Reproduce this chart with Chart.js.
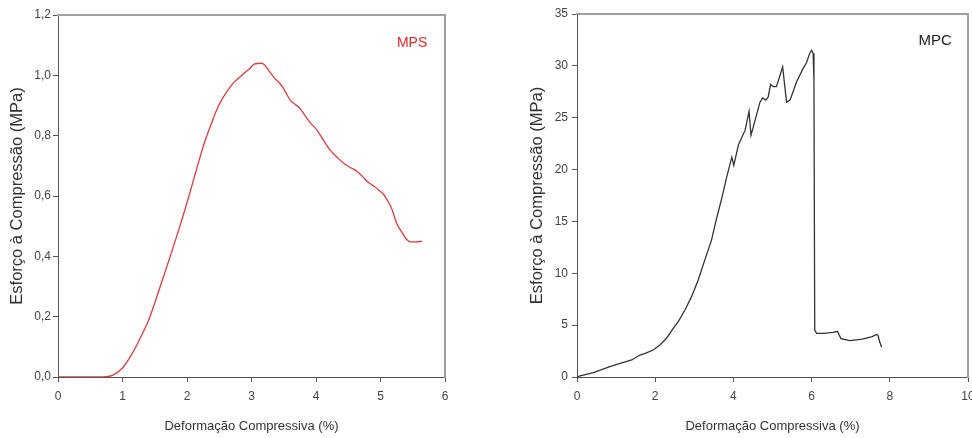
<!DOCTYPE html>
<html>
<head>
<meta charset="utf-8">
<script src="https://cdn.jsdelivr.net/npm/chart.js@4/dist/chart.umd.min.js"></script>
<style>
  html, body { margin: 0; padding: 0; background: #fff; width: 972px; height: 438px; overflow: hidden; }
  canvas { position: absolute; top: 0; }
  #mps { left: 0; }
  #mpc { left: 500px; }
</style>
</head>
<body>
<canvas id="mps" width="460" height="438"></canvas>
<canvas id="mpc" width="490" height="438"></canvas>
<script>
// Stress-strain curve, MPS specimen (strain %, stress MPa)
const mpsStrain = [0, 0.3, 0.6, 0.7, 0.85, 1.0, 1.1, 1.2, 1.3, 1.4, 1.5, 1.6, 1.74, 1.89, 2.03, 2.15, 2.26, 2.36, 2.48, 2.6, 2.72, 2.85, 2.97, 3.05, 3.15, 3.2, 3.28, 3.36, 3.44, 3.5, 3.6, 3.67, 3.75, 3.82, 3.91, 4.01, 4.1, 4.22, 4.32, 4.42, 4.52, 4.63, 4.72, 4.8, 4.9, 4.97, 5.05, 5.1, 5.17, 5.25, 5.33, 5.41, 5.47, 5.55, 5.64];
const mpsStress = [0, 0, 0, 0, 0.006, 0.03, 0.06, 0.097, 0.14, 0.186, 0.245, 0.31, 0.4, 0.5, 0.6, 0.69, 0.77, 0.83, 0.895, 0.94, 0.975, 1.0, 1.022, 1.038, 1.04, 1.035, 1.012, 0.99, 0.973, 0.955, 0.918, 0.905, 0.891, 0.87, 0.843, 0.82, 0.79, 0.752, 0.73, 0.71, 0.696, 0.683, 0.665, 0.647, 0.632, 0.62, 0.605, 0.588, 0.56, 0.51, 0.48, 0.455, 0.448, 0.448, 0.45];

// Stress-strain curve, MPC specimen (strain %, stress MPa)
const mpcStrain = [0, 0.08, 0.42, 0.84, 1.1, 1.4, 1.61, 1.74, 1.95, 2.12, 2.29, 2.46, 2.59, 2.76, 2.93, 3.1, 3.27, 3.44, 3.57, 3.7, 3.83, 3.96, 4.01, 4.13, 4.3, 4.4, 4.45, 4.6, 4.68, 4.75, 4.83, 4.89, 4.95, 5.02, 5.1, 5.26, 5.3, 5.36, 5.45, 5.62, 5.79, 5.87, 5.95, 6.0, 6.04, 6.06, 6.08, 6.13, 6.3, 6.55, 6.66, 6.7, 6.75, 6.98, 7.3, 7.55, 7.66, 7.7, 7.74, 7.79];
const mpcStress = [0, 0.1, 0.42, 1.0, 1.32, 1.64, 2.12, 2.28, 2.6, 3.09, 3.73, 4.69, 5.34, 6.46, 7.75, 9.36, 11.29, 13.2, 15.3, 17.2, 19.3, 21.2, 20.4, 22.4, 23.8, 25.6, 23.3, 25.4, 26.5, 26.9, 26.7, 27.0, 28.2, 28.0, 28.0, 29.9, 28.5, 26.5, 26.7, 28.5, 29.8, 30.3, 31.2, 31.5, 31.2, 28.6, 4.5, 4.2, 4.2, 4.3, 4.4, 4.1, 3.7, 3.5, 3.65, 3.9, 4.1, 4.0, 3.4, 2.9];

// Axis ranges and tick steps
const mpsXTicks = { min: 0, max: 6, step: 1 };
const mpsYTicks = { min: 0, max: 1.2, step: 0.2 };
const mpcXTicks = { min: 0, max: 10, step: 2 };
const mpcYTicks = { min: 0, max: 35, step: 5 };

const xTitle = 'Deformação Compressiva (%)';
const yTitle = 'Esforço à Compressão (MPa)';

const FONT = '"Liberation Sans", Arial, Helvetica, sans-serif';

// Draws the specimen tag inside the plotting area, anchored to data coordinates
const specimenTag = {
  id: 'specimenTag',
  afterDraw(chart, args, opts) {
    const { ctx, scales } = chart;
    ctx.save();
    ctx.font = opts.font;
    ctx.fillStyle = opts.color;
    ctx.textAlign = 'center';
    ctx.textBaseline = 'middle';
    ctx.fillText(opts.text, scales.x.getPixelForValue(opts.x), scales.y.getPixelForValue(opts.y));
    ctx.restore();
  }
};

function makeConfig(xs, ys, color, xr, yr, fmt, geom, tag, smooth) {
  const frame = { color: '#a0a0a0', width: 2 };
  return {
    type: 'line',
    data: {
      datasets: [{
        data: xs.map((x, i) => ({ x: x, y: ys[i] })),
        borderColor: color,
        borderWidth: 1.3,
        pointRadius: 0,
        fill: false,
        tension: smooth ? 0.35 : 0,
        cubicInterpolationMode: smooth ? 'monotone' : 'default'
      }]
    },
    options: {
      responsive: false,
      animation: false,
      devicePixelRatio: 1,
      layout: { padding: { left: 0, top: geom.top, right: geom.right, bottom: 0 } },
      plugins: { legend: { display: false }, tooltip: { enabled: false }, specimenTag: tag },
      scales: {
        x: {
          type: 'linear', position: 'bottom', min: xr.min, max: xr.max,
          ticks: { stepSize: xr.step, color: '#444', font: { family: FONT, size: 12 }, padding: 7, maxRotation: 0 },
          grid: { display: true, drawOnChartArea: false, drawTicks: true, tickLength: 5, color: '#555' },
          border: { color: '#555', width: 1 },
          title: { display: true, text: xTitle, color: '#333', font: { family: FONT, size: 13 }, padding: { top: 0, bottom: 4 } },
          afterFit(s) { s.height = geom.xh; }
        },
        y: {
          type: 'linear', position: 'left', min: yr.min, max: yr.max,
          ticks: { stepSize: yr.step, color: '#444', font: { family: FONT, size: 12 }, padding: geom.ypad, callback: fmt },
          grid: { display: true, drawOnChartArea: false, drawTicks: true, tickLength: 5, color: '#555' },
          border: { color: '#555', width: 1 },
          title: { display: true, text: yTitle, color: '#333', font: { family: FONT, size: 16.5 }, padding: { top: geom.ytp, bottom: 0 } },
          afterFit(s) { s.width = geom.yw; }
        },
        xTop: {
          type: 'linear', position: 'top', min: 0, max: 1,
          ticks: { display: false }, grid: { display: false }, border: frame,
          afterFit(s) { s.height = 0; }
        },
        yRight: {
          type: 'linear', position: 'right', min: 0, max: 1,
          ticks: { display: false }, grid: { display: false }, border: frame,
          afterFit(s) { s.width = 0; }
        }
      }
    },
    plugins: [specimenTag]
  };
}

new Chart(document.getElementById('mps'), makeConfig(
  mpsStrain, mpsStress, '#e03a3e', mpsXTicks, mpsYTicks,
  v => v.toFixed(1).replace('.', ','),
  { top: 15, right: 15, xh: 61, yw: 58, ytp: 8, ypad: 2 },
  { text: 'MPS', color: '#e0262b', x: 5.49, y: 1.107, font: '14px ' + FONT },
  true
));

new Chart(document.getElementById('mpc'), makeConfig(
  mpcStrain, mpcStress, '#333333', mpcXTicks, mpcYTicks,
  v => String(v),
  { top: 14, right: 22, xh: 61, yw: 77, ytp: 28, ypad: 4 },
  { text: 'MPC', color: '#222', x: 9.16, y: 32.4, font: '15px ' + FONT },
  false
));
</script>
</body>
</html>
